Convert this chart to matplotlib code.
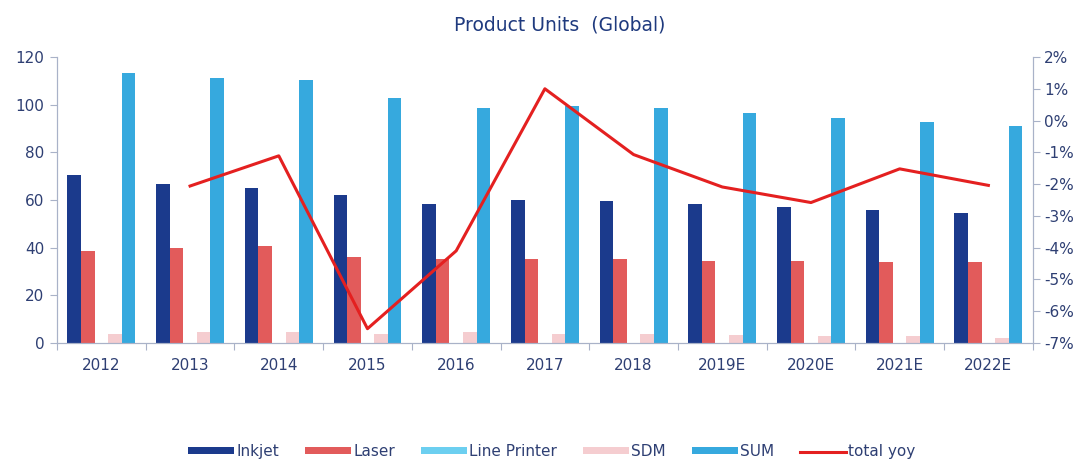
import matplotlib
matplotlib.use("Agg")
import matplotlib.pyplot as plt
import numpy as np

plt.rcParams['font.family'] = ['DejaVu Sans']

years = ["2012", "2013", "2014", "2015", "2016", "2017", "2018",
         "2019E", "2020E", "2021E", "2022E"]
inkjet = [70.3, 66.9, 65.0, 61.9, 58.3, 60.2, 59.6, 58.3, 57.2, 55.8, 54.6]
laser = [38.6, 40.0, 40.6, 36.1, 35.4, 35.4, 35.4, 34.3, 34.3, 34.0, 34.0]
line_printer = [0, 0, 0, 0, 0, 0, 0, 0, 0, 0, 0]
sdm = [3.9, 4.5, 4.5, 3.9, 4.5, 3.6, 3.6, 3.2, 2.8, 2.8, 2.0]
total = [113.5, 111.2, 110.2, 103.0, 98.8, 99.5, 98.8, 96.4, 94.3, 92.9, 91.1]
yoy_years = years[1:]
total_yoy = [-2.06, -1.11, -6.55, -4.10, 1.0, -1.07, -2.09, -2.58, -1.52, -2.04]

c_ink = "#1B3A8C"
c_laser = "#E25B5B"
c_line = "#6CCFF0"
c_sdm = "#F5CDD0"
c_sum = "#36A9DE"
c_yoy = "#E42020"
txt = "#2E3F73"
spine = "#A9B2C8"

fig = plt.figure(figsize=(10.78, 4.62), dpi=100)
ax = fig.add_axes([0.0529, 0.2576, 0.9051, 0.619])
x = np.arange(len(years))
w = 0.153

ax.bar(x - 2 * w, inkjet, w, color=c_ink, label="Inkjet")
ax.bar(x - w, laser, w, color=c_laser, label="Laser")
ax.bar(x, line_printer, w, color=c_line, label="Line Printer")
ax.bar(x + w, sdm, w, color=c_sdm, label="SDM")
ax.bar(x + 2 * w, total, w, color=c_sum, label="SUM")

ax.set_xlim(-0.5, len(years) - 0.5)
ax.set_ylim(0, 120)
ax.set_yticks(range(0, 121, 20))
ax.set_xticks(np.arange(-0.5, len(years) - 0.4, 1))
ax.set_xticklabels([])
ax.set_xticks(x, minor=True)
ax.set_xticklabels(years, minor=True)
ax.tick_params(axis="x", which="major", length=5, color=spine, direction="out")
ax.tick_params(axis="x", which="minor", length=0, pad=11, labelsize=11, labelcolor=txt)
ax.tick_params(axis="y", length=5, color=spine, labelsize=11, labelcolor=txt, pad=4)
for s in ["left", "bottom", "right"]:
    ax.spines[s].set_color(spine)
ax.spines["top"].set_visible(False)

ax2 = ax.twinx()
yoy_x = [years.index(y) for y in yoy_years]
ax2.plot(yoy_x, total_yoy, color=c_yoy, lw=2.2, label="total yoy")
ax2.set_ylim(-7, 2)
ax2.set_yticks(range(-7, 3))
ax2.set_yticklabels([f"{v}%" for v in range(-7, 3)])
ax2.tick_params(axis="y", length=5, color=spine, labelsize=11, labelcolor=txt, pad=3)
for s in ["left", "bottom", "right"]:
    ax2.spines[s].set_color(spine)
ax2.spines["top"].set_visible(False)

fig.text(0.5195, 0.946, "Product Units  (Global)", ha="center", va="center",
         fontsize=13.5, color="#1F3A7E")

h1, l1 = ax.get_legend_handles_labels()
h2, l2 = ax2.get_legend_handles_labels()
leg = fig.legend(h1 + h2, l1 + l2, loc="center", bbox_to_anchor=(0.512, 0.022),
                 ncol=6, frameon=False, fontsize=11, handlelength=3.0,
                 handleheight=0.35, columnspacing=1.7, handletextpad=0.15)
for t in leg.get_texts():
    t.set_color(txt)

fig.savefig("out.png", dpi=100)
